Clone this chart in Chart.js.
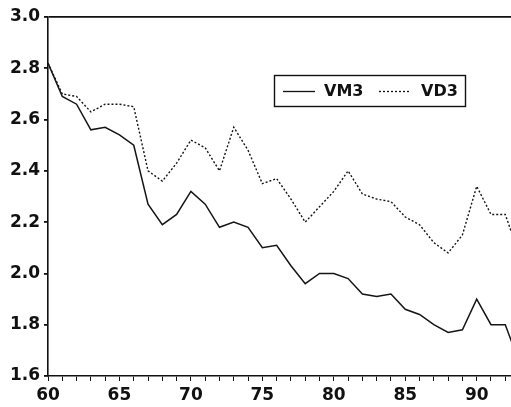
<!DOCTYPE html>
<html>
<head>
<meta charset="utf-8">
<script src="https://cdn.jsdelivr.net/npm/chart.js@4/dist/chart.umd.min.js"></script>
<style>
  html, body { margin: 0; padding: 0; background: #fff; }
  #wrap { width: 511px; height: 407px; position: relative; }
</style>
</head>
<body>
<div id="wrap"><canvas id="c"></canvas></div>
<script>
const years = [60, 61, 62, 63, 64, 65, 66, 67, 68, 69, 70, 71, 72, 73, 74, 75, 76,
               77, 78, 79, 80, 81, 82, 83, 84, 85, 86, 87, 88, 89, 90, 91, 92, 93];
const vm3 = [2.82, 2.69, 2.66, 2.56, 2.57, 2.54, 2.50, 2.27, 2.19, 2.23, 2.32, 2.27,
             2.18, 2.20, 2.18, 2.10, 2.11, 2.03, 1.96, 2.00, 2.00, 1.98, 1.92, 1.91,
             1.92, 1.86, 1.84, 1.80, 1.77, 1.78, 1.90, 1.80, 1.80, 1.65];
const vd3 = [2.82, 2.70, 2.69, 2.63, 2.66, 2.66, 2.65, 2.40, 2.36, 2.43, 2.52, 2.49,
             2.40, 2.57, 2.48, 2.35, 2.37, 2.29, 2.20, 2.26, 2.32, 2.40, 2.31, 2.29,
             2.28, 2.22, 2.19, 2.12, 2.08, 2.15, 2.34, 2.23, 2.23, 2.07];
const yTicks = [1.6, 1.8, 2.0, 2.2, 2.4, 2.6, 2.8, 3.0];
const xLabelEvery = 5;

const FONT = '"DejaVu Sans", "Liberation Sans", Arial, sans-serif';

const toPoints = ( vals ) => vals.map( ( v, i ) => ( { x: years[ i ], y: v } ) );

// boxed legend inside the plot, like the original
const boxLegend = {
    id: 'boxLegend',
    afterDraw ( chart ) {
        const ctx = chart.ctx;
        const x0 = 274, y0 = 75, w = 191, h = 31;
        ctx.save();
        ctx.fillStyle = '#fff';
        ctx.fillRect( x0, y0, w, h );
        ctx.strokeStyle = '#111';
        ctx.lineWidth = 1.4;
        ctx.strokeRect( x0 + 0.5, y0 + 0.5, w, h );
        ctx.font = 'bold 16px ' + FONT;
        ctx.textBaseline = 'middle';
        ctx.fillStyle = '#111';
        const cy = y0 + h / 2 + 1;
        const items = [
            { lx: 283, tx: 324, dash: [] },
            { lx: 379, tx: 421, dash: [ 2, 2 ] }
        ];
        chart.data.datasets.forEach( ( ds, i ) => {
            const it = items[ i ];
            ctx.beginPath();
            ctx.setLineDash( it.dash );
            ctx.lineWidth = 1.3;
            ctx.moveTo( it.lx, cy );
            ctx.lineTo( it.lx + 32, cy );
            ctx.stroke();
            ctx.setLineDash( [] );
            ctx.fillText( ds.label, it.tx, cy );
        } );
        ctx.restore();
    }
};

new Chart( document.getElementById( 'c' ), {
    type: 'line',
    data: {
        datasets: [ {
            label: 'VM3',
            data: toPoints( vm3 ),
            borderColor: '#151515',
            borderWidth: 1.5,
            pointRadius: 0,
            tension: 0
        }, {
            label: 'VD3',
            data: toPoints( vd3 ),
            borderColor: '#151515',
            borderWidth: 1.4,
            borderDash: [ 2, 2 ],
            pointRadius: 0,
            tension: 0
        } ]
    },
    options: {
        responsive: true,
        maintainAspectRatio: false,
        animation: false,
        layout: { padding: { top: 17, right: 0, left: 0, bottom: 0 } },
        plugins: {
            legend: { display: false },
            tooltip: { enabled: false }
        },
        scales: {
            x: {
                type: 'linear',
                min: 60,
                max: 92.4,
                afterBuildTicks ( scale ) {
                    scale.ticks = years.filter( y => y <= 92 ).map( v => ( { value: v } ) );
                },
                afterFit ( scale ) { scale.height = 31; },
                border: { display: true, color: '#111', width: 1.6 },
                grid: { drawOnChartArea: false, tickLength: 5, color: '#111', tickWidth: 1 },
                ticks: {
                    autoSkip: false,
                    maxRotation: 0,
                    padding: 4,
                    color: '#111',
                    font: { family: FONT, size: 17, weight: 'bold' },
                    callback: ( v ) => ( v % xLabelEvery === 0 ? String( v ) : '' )
                }
            },
            y: {
                min: 1.6,
                max: 3.0,
                afterBuildTicks ( scale ) {
                    scale.ticks = yTicks.map( v => ( { value: v } ) );
                },
                afterFit ( scale ) { scale.width = 48; },
                border: { display: true, color: '#111', width: 1.6 },
                grid: {
                    tickLength: 4,
                    tickColor: '#111',
                    lineWidth: 1.8,
                    color: ( c ) => ( c.tick && Math.abs( c.tick.value - 3.0 ) < 1e-6 ? '#111' : 'rgba(0,0,0,0)' )
                },
                ticks: {
                    padding: 4,
                    color: '#111',
                    font: { family: FONT, size: 17, weight: 'bold' },
                    callback: ( v ) => Number( v ).toFixed( 1 )
                }
            }
        }
    },
    plugins: [ boxLegend ]
} );
</script>
</body>
</html>
